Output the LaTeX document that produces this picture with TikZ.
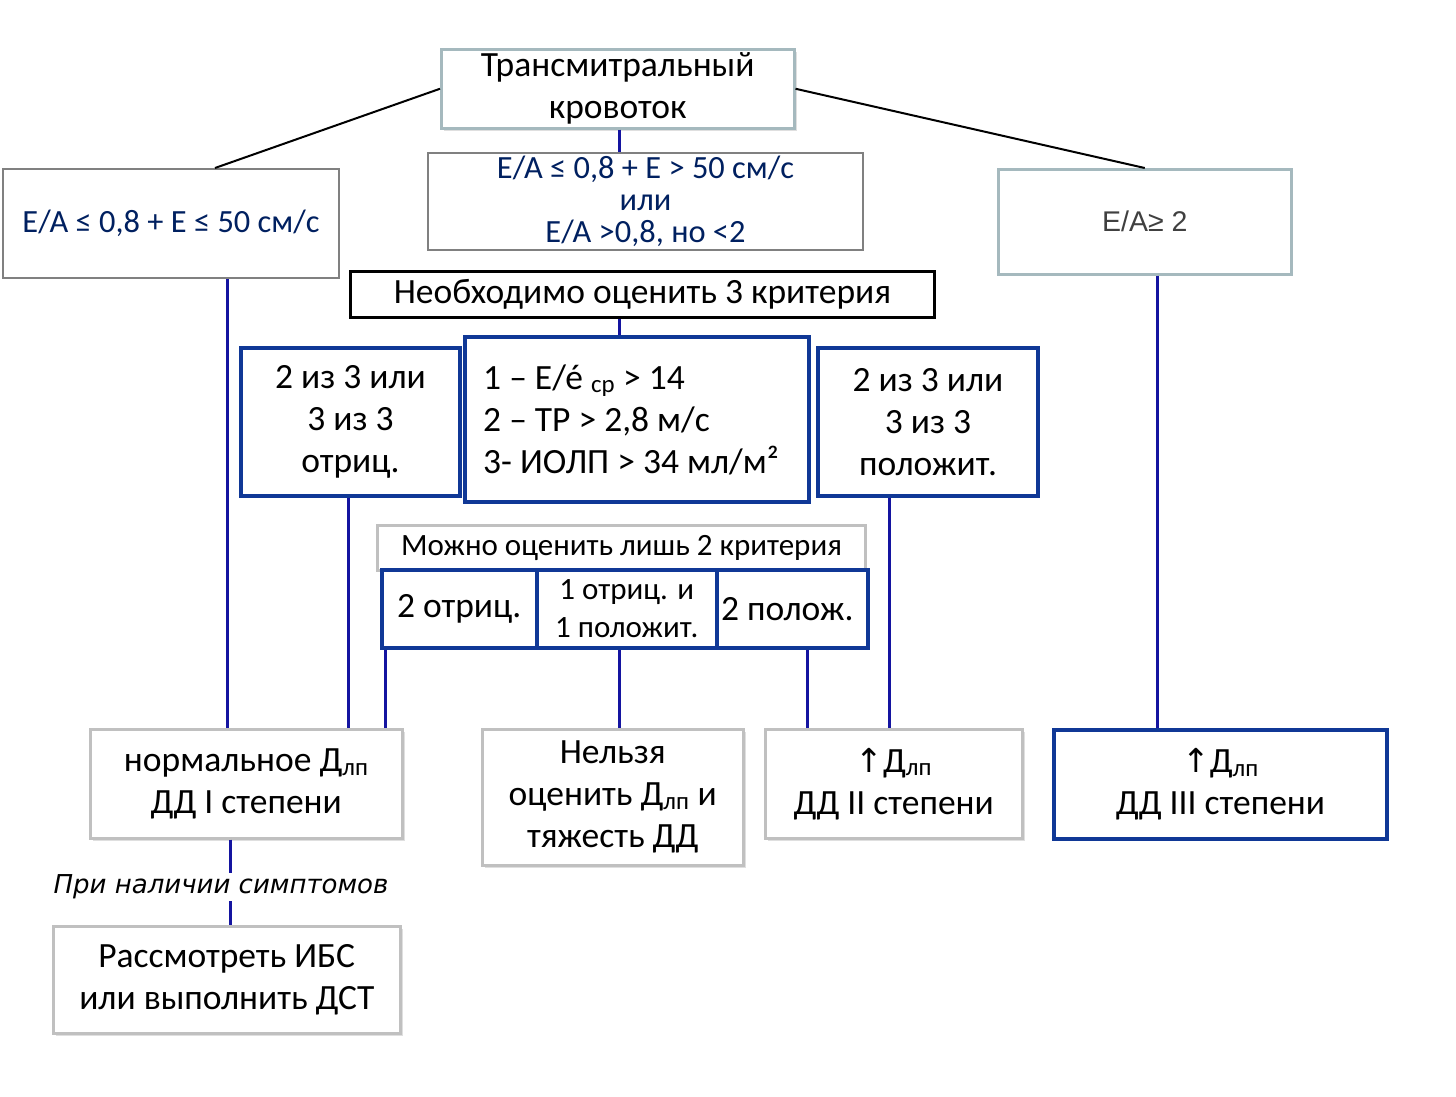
\documentclass[tikz,border=0pt]{standalone}
\usepackage{fontspec}
\setmainfont{Carlito}
\newfontfamily\arialf{Liberation Sans}
\newfontfamily\dejavuf{DejaVu Sans}
\usetikzlibrary{shadows}
\definecolor{navytext}{RGB}{0,32,96}
\definecolor{boxblue}{RGB}{16,56,150}
\definecolor{lineblue}{RGB}{20,20,160}
\definecolor{graybd}{RGB}{128,128,128}
\definecolor{lgraybd}{RGB}{192,192,192}
\definecolor{tealgray}{RGB}{165,185,190}
\tikzset{
  base/.style={rectangle, fill=white, inner sep=0pt, align=center, anchor=north west, text=black},
  graybox/.style={base, draw=graybd, line width=2pt},
  tealbox/.style={base, draw=tealgray, line width=2.5pt},
  lightbox/.style={base, draw=lgraybd, line width=2.5pt, drop shadow={shadow xshift=3pt, shadow yshift=-3pt, opacity=0.25, fill=gray}},
  bluebox/.style={base, draw=boxblue, line width=4pt},
  blackbox/.style={base, draw=black, line width=3pt},
  blueline/.style={draw=lineblue, line width=3pt},
  blackline/.style={draw=black, line width=2pt},
  fs/.style={font=\fontsize{35.5}{42}\selectfont},
}
\newcommand{\uparr}{{\dejavuf\fontsize{33}{36}\selectfont ↑}}
\begin{document}
\begin{tikzpicture}[x=1pt,y=-1pt]
\useasboundingbox (0,0) rectangle (1456,1096);
% helper x-coordinates
\coordinate (c215) at (215,0);
\coordinate (c227) at (227,0);
\coordinate (c230) at (230,0);
\coordinate (c348) at (348,0);
\coordinate (c385) at (385,0);
\coordinate (c619) at (619,0);
\coordinate (c807) at (807,0);
\coordinate (c889) at (889,0);
\coordinate (c1157) at (1157,0);

% top
\node[tealbox, drop shadow={shadow xshift=3pt, shadow yshift=-3pt, opacity=0.25, fill=gray}, minimum width=353pt, minimum height=79pt, fs] (top) at (440,48) {Трансмитральный\\кровоток};

% E/A row
\node[graybox, minimum width=336pt, minimum height=109pt, text=navytext, font=\fontsize{32.4}{36}\selectfont] (eaL) at (2,168) {E/A ≤ 0,8 + E ≤ 50 см/с};
\node[graybox, minimum width=435pt, minimum height=97pt, text=navytext, font=\fontsize{32.4}{32}\selectfont] (eaC) at (427,152) {E/A ≤ 0,8 + E > 50 см/с\\или\\E/A >0,8, но <2};
\node[tealbox, minimum width=293pt, minimum height=105pt, text=black!75, font=\arialf\fontsize{28.5}{32}\selectfont] (eaR) at (997,168) {E/A≥ 2};

% need 3 criteria
\node[blackbox, minimum width=584pt, minimum height=46pt, font=\fontsize{35.5}{38}\selectfont] (need3) at (349,270) {Необходимо оценить 3 критерия};

\node[bluebox, minimum width=344pt, minimum height=165pt, fs, align=left] (crit) at (463,335) {1 – E/é \textsubscript{ср} > 14\\2 – ТР > 2,8 м/с\\3- ИОЛП > 34 мл/м²\hspace*{12pt}};
\node[bluebox, minimum width=219pt, minimum height=148pt, fs] (neg3) at (239,346) {2 из 3 или\\3 из 3\\отриц.};
\node[bluebox, minimum width=220pt, minimum height=148pt, fs] (pos3) at (816,346) {2 из 3 или\\3 из 3\\положит.};

% only 2 criteria
\node[base, draw=lgraybd, line width=3pt, minimum width=488pt, minimum height=45pt, font=\fontsize{31}{34}\selectfont] (only2) at (376,524) {Можно оценить лишь 2 критерия};
\node[base, draw=boxblue, line width=3.5pt, minimum width=155pt, minimum height=78pt, font=\fontsize{35.5}{38}\selectfont] (neg2) at (380,568) {2 отриц.};
\node[base, draw=boxblue, line width=3.5pt, minimum width=180pt, minimum height=78pt, font=\fontsize{31}{38}\selectfont] (mix2) at (535,568) {1 отриц. и\\1 положит.};
\node[base, draw=boxblue, line width=3.5pt, minimum width=151pt, minimum height=78pt, font=\fontsize{35.5}{38}\selectfont] (pos2) at (715,568) {2 полож.\hspace*{10pt}};

% bottom row
\node[lightbox, minimum width=312pt, minimum height=109pt, fs] (norm) at (89,728) {нормальное Д\textsubscript{лп}\\ДД I степени};
\node[lightbox, minimum width=261pt, minimum height=136pt, fs] (cannot) at (481,728) {Нельзя\\оценить Д\textsubscript{лп} и\\тяжесть ДД};
\node[lightbox, minimum width=257pt, minimum height=109pt, fs] (dd2) at (764,728) {\uparr Д\textsubscript{лп}\\ДД II степени};
\node[bluebox, minimum width=333pt, minimum height=109pt, fs] (dd3) at (1052,728) {\uparr Д\textsubscript{лп}\\ДД III степени};

\node[lightbox, minimum width=347pt, minimum height=107pt, fs] (ibs) at (52,925) {Рассмотреть ИБС\\или выполнить ДСТ};

\node[inner sep=2pt, font=\dejavuf\itshape\fontsize{26}{30}\selectfont] (sympt) at (221,887) {При наличии симптомов};

% connectors
\draw[blackline] (top.west) -- (eaL.north -| c215);
\draw[blackline] (top.east) -- (eaR.north);
\draw[blueline] (top.south -| c619) -- (eaC.north -| c619);
\draw[blueline] (need3.south -| c619) -- (crit.north -| c619);
\draw[blueline] (eaL.south -| c227) -- (norm.north -| c227);
\draw[blueline] (neg3.south -| c348) -- (norm.north -| c348);
\draw[blueline] (neg2.south -| c385) -- (norm.north -| c385);
\draw[blueline] (mix2.south -| c619) -- (cannot.north -| c619);
\draw[blueline] (pos2.south -| c807) -- (dd2.north -| c807);
\draw[blueline] (pos3.south -| c889) -- (dd2.north -| c889);
\draw[blueline] (eaR.south -| c1157) -- (dd3.north -| c1157);
\draw[blueline] (norm.south -| c230) -- (sympt.north -| c230);
\draw[blueline] (sympt.south -| c230) -- (ibs.north -| c230);
\end{tikzpicture}
\end{document}
